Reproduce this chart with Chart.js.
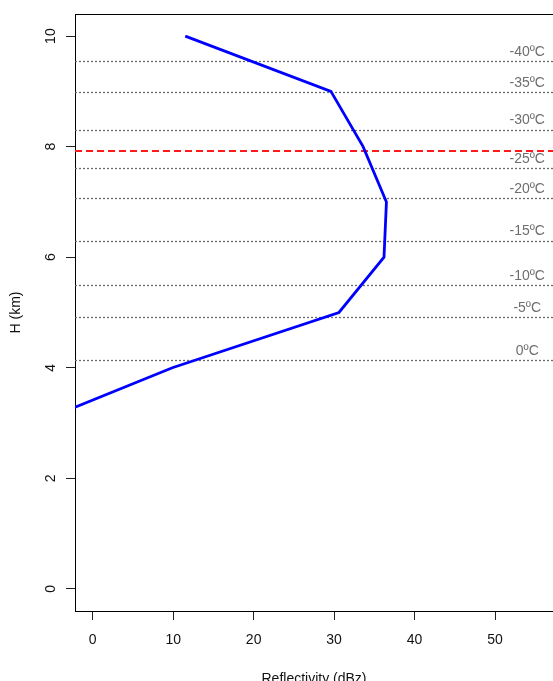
<!DOCTYPE html>
<html>
<head>
<meta charset="utf-8">
<script src="https://cdn.jsdelivr.net/npm/chart.js@4.4.0/dist/chart.umd.min.js"></script>
<style>
  html, body { margin:0; padding:0; background:#fff; overflow:hidden; }
  canvas { display:block; }
</style>
</head>
<body>
<canvas id="c" width="553" height="681"></canvas>
<script>
// reflectivity profile (height in km, reflectivity in dBz)
const heights      = [3, 4, 5, 6, 7, 8, 9, 10];
const reflectivity = [-7.0, 9.9, 30.6, 36.2, 36.5, 33.6, 29.6, 11.5];

// isotherm levels
const isoLabels  = ['0ºC', '-5ºC', '-10ºC', '-15ºC', '-20ºC', '-25ºC', '-30ºC', '-35ºC', '-40ºC'];
const isoHeights = [4.14, 4.91, 5.50, 6.30, 7.07, 7.62, 8.31, 8.98, 9.55];
const isoLabelX  = 54;          // dBz, where the labels sit
const redHeights = [7.92];      // dashed red level

// axes
const xTicks = [0, 10, 20, 30, 40, 50];
const yTicks = [0, 2, 4, 6, 8, 10];
const xRange = [-2.2, 57.2];
const yRange = [-0.4, 10.4];

const FONT = "'Liberation Sans', Arial, sans-serif";
Chart.defaults.font.family = FONT;
Chart.defaults.font.size = 14;
Chart.defaults.color = '#111';

function hline(ctx, a, py) {
  ctx.beginPath(); ctx.moveTo(a.left, py); ctx.lineTo(a.right, py); ctx.stroke();
}

const isotherms = {
  id: 'isotherms',
  beforeDatasetsDraw(chart) {
    const { ctx, chartArea: a, scales: { x, y } } = chart;
    ctx.save();
    ctx.beginPath();
    ctx.rect(a.left, a.top, a.right - a.left, a.bottom - a.top);
    ctx.clip();
    ctx.lineWidth = 1.3;
    ctx.strokeStyle = '#6a6a6a';
    ctx.setLineDash([2, 2]);
    isoHeights.forEach(h => hline(ctx, a, Math.round(y.getPixelForValue(h)) + 0.5));
    // red dashed level
    ctx.strokeStyle = '#ff1a1a';
    ctx.lineWidth = 1.8;
    ctx.setLineDash([7, 4]);
    redHeights.forEach(h => hline(ctx, a, Math.round(y.getPixelForValue(h))));
    ctx.setLineDash([]);
    ctx.fillStyle = '#6e6e6e';
    ctx.font = '14px ' + FONT;
    ctx.textAlign = 'center';
    ctx.textBaseline = 'middle';
    isoHeights.forEach((h, i) => {
      ctx.fillText(isoLabels[i], x.getPixelForValue(isoLabelX), y.getPixelForValue(h) - 9);
    });
    ctx.restore();
  },
  afterDraw(chart) {
    // top of the frame box
    const { ctx, chartArea: a } = chart;
    ctx.save();
    ctx.strokeStyle = '#000';
    ctx.lineWidth = 1;
    hline(ctx, a, Math.round(a.top) + 0.5);
    ctx.restore();
  }
};

new Chart(document.getElementById('c'), {
  type: 'scatter',
  data: {
    datasets: [{
      data: heights.map((h, i) => ({ x: reflectivity[i], y: h })),
      showLine: true,
      borderColor: '#0000ff',
      borderWidth: 2.8,
      pointRadius: 0,
      tension: 0,
    }]
  },
  options: {
    responsive: false,
    animation: false,
    layout: { padding: { top: 14, right: 0, bottom: 0, left: 0 } },
    plugins: { legend: { display: false }, tooltip: { enabled: false } },
    scales: {
      x: {
        type: 'linear', min: xRange[0], max: xRange[1],
        afterBuildTicks: s => { s.ticks = xTicks.map(v => ({ value: v })); },
        afterFit: s => { s.height = 70; s.paddingLeft = 0; s.paddingRight = 0; },
        grid: { drawOnChartArea: false, tickLength: 9, color: '#222' },
        border: { color: '#000', width: 1 },
        ticks: { padding: 12, color: '#111' },
        title: { display: true, text: 'Reflectivity (dBz)', color: '#111', padding: { top: 0, bottom: -7 } },
      },
      y: {
        type: 'linear', min: yRange[0], max: yRange[1],
        afterBuildTicks: s => { s.ticks = yTicks.map(v => ({ value: v })); },
        afterFit: s => { s.width = 75; s.paddingTop = 0; s.paddingBottom = 0; },
        grid: { drawOnChartArea: false, tickLength: 9, color: '#222' },
        border: { color: '#000', width: 1 },
        ticks: { padding: 7, minRotation: 90, maxRotation: 90, crossAlign: 'center', color: '#111' },
        title: { display: true, text: 'H (km)', color: '#111', padding: { top: 8, bottom: 0 } },
      },
    },
  },
  plugins: [isotherms],
});
</script>
</body>
</html>
